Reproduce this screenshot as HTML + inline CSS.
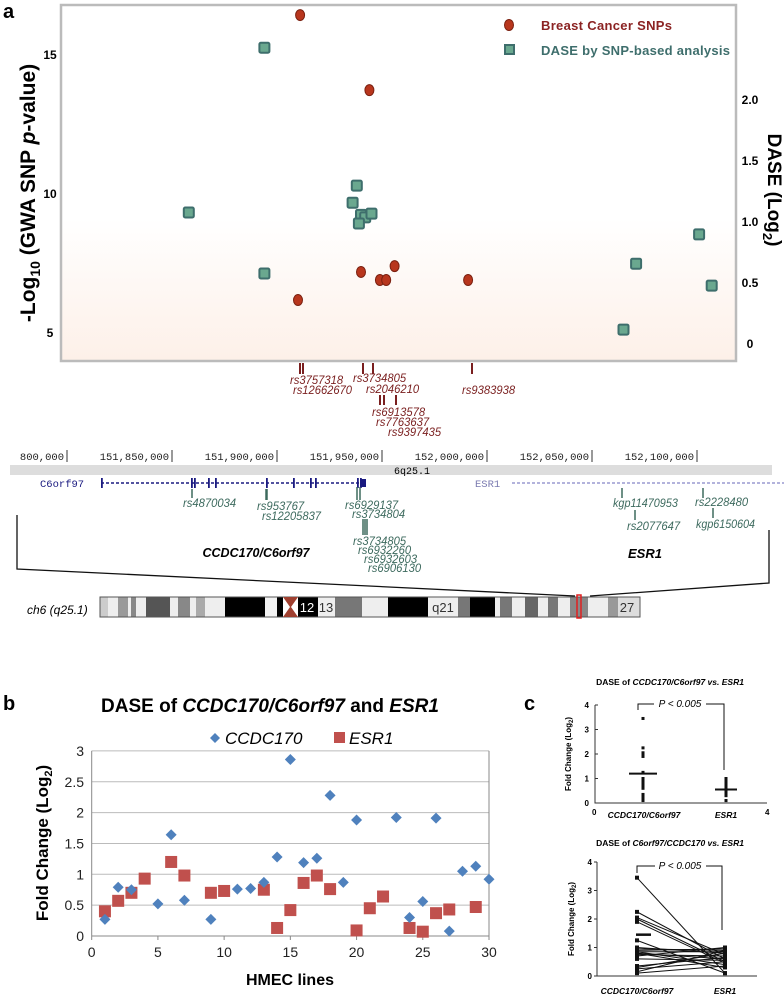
<!DOCTYPE html>
<html><head><meta charset="utf-8"><style>
html,body{margin:0;padding:0;background:#fff}
svg{display:block;font-family:"Liberation Sans",sans-serif}
</style></head><body>
<svg id="fig" width="784" height="996" viewBox="0 0 784 996" xmlns="http://www.w3.org/2000/svg">
<defs>
<linearGradient id="peach" x1="0" y1="0" x2="0" y2="1">
<stop offset="0" stop-color="#ffffff"/><stop offset="0.6" stop-color="#ffffff"/><stop offset="1" stop-color="#fdf0e8"/>
</linearGradient>
</defs>
<g id="pa"></g>
<g id="pb"></g>
<g id="pc"></g>
</svg>
<script>
// ---------- Panel a data ----------
const bcPos = [151.911,151.944,151.910,151.940,151.949,151.952,151.956,151.991];
const bcLogP = [16.4,13.7,6.15,7.16,6.87,6.87,7.37,6.87];
const dasePos = [151.894,151.858,151.894,151.938,151.936,151.940,151.942,151.945,151.939,152.065,152.071,152.101,152.107];
const daseVal = [2.42,1.07,0.57,1.29,1.15,1.05,1.03,1.06,0.98,0.11,0.65,0.89,0.47];
const leftTicks = [5,10,15];
const rightTicks = [0,0.5,1.0,1.5,2.0];
const rulerTicks = [151.80,151.85,151.90,151.95,152.00,152.05,152.10,152.15];
// ---------- Panel b data ----------
const ccdcX = [1,2,3,5,6,7,9,11,12,13,14,15,16,17,18,19,20,23,24,25,26,27,28,29,30];
const ccdcY = [0.27,0.79,0.75,0.52,1.64,0.58,0.27,0.76,0.77,0.87,1.28,2.86,1.19,1.26,2.28,0.87,1.88,1.92,0.30,0.56,1.91,0.08,1.05,1.13,0.92];
const esrX = [1,2,3,4,6,7,9,10,13,14,15,16,17,18,20,21,22,24,25,26,27,29];
const esrY = [0.40,0.57,0.70,0.93,1.20,0.98,0.70,0.73,0.75,0.13,0.42,0.86,0.98,0.76,0.09,0.45,0.64,0.13,0.07,0.37,0.43,0.47];
const bYTicks = [0,0.5,1,1.5,2,2.5,3];
const bXTicks = [0,5,10,15,20,25,30];
// ---------- Panel c data ----------
const pairCcdc = [3.45,2.25,2.05,2.0,1.9,1.25,1.0,0.95,0.9,0.85,0.85,0.8,0.8,0.75,0.7,0.6,0.35,0.3,0.25,0.15,0.1];
const pairEsr = [0.1,0.6,0.75,0.5,0.45,0.1,0.8,0.9,0.95,0.4,0.85,0.6,0.3,0.7,1.0,0.55,0.65,0.8,0.5,0.9,0.35];
const ccdcMean = 1.2, esrMean = 0.55, pairCcdcMean = 1.45;
const cTicks = [0,1,2,3,4];

const NS='http://www.w3.org/2000/svg';
function mk(parent, tag, attrs, text){
  const e=document.createElementNS(NS,tag);
  for(const k in attrs) e.setAttribute(k,attrs[k]);
  if(text!==undefined) e.textContent=text;
  parent.appendChild(e); return e;
}
const pa=document.getElementById('pa'), pb=document.getElementById('pb'), pc=document.getElementById('pc');

// ===== Panel a =====
let t;
t=mk(pa,'text',{x:3,y:18,'font-size':20,'font-weight':'bold'},'a');
 
let r=mk(pa,'rect',{x:61,y:5,width:675,height:356,fill:'url(#peach)',stroke:'#bbb','stroke-width':2.5});
 
const gx = p => 172 + (p-151.85)*2100;
const ly = v => 332 - (v-5)*27.8;
const ry = v => 343 - v*122;
leftTicks.forEach(v=>{ const e=mk(pa,'text',{x:50,y:ly(v)+5,'font-size':12,'font-weight':'bold','text-anchor':'middle'},String(v));
   });
rightTicks.forEach(v=>{ const e=mk(pa,'text',{x:750,y:ry(v)+5,'font-size':12,'font-weight':'bold','text-anchor':'middle'},v===0?'0':v.toFixed(1));
   });
t=mk(pa,'text',{transform:'translate(35,193) rotate(-90)','font-size':21,'font-weight':'bold','text-anchor':'middle'});
t.innerHTML='-Log<tspan font-size="14" dy="5">10</tspan><tspan dy="-5"> (GWA SNP </tspan><tspan font-style="italic">p</tspan>-value)';
 
t=mk(pa,'text',{transform:'translate(768,190) rotate(90)','font-size':19,'font-weight':'bold','text-anchor':'middle'});
t.innerHTML='DASE (Log<tspan font-size="13" dy="5">2</tspan><tspan dy="-5">)</tspan>';
 
dasePos.forEach((p,i)=>{ const e=mk(pa,'rect',{x:gx(p)-5,y:ry(daseVal[i])-5,width:10,height:10,rx:1.5,fill:'#6aa88f',stroke:'#3e6e6c','stroke-width':2});
   });
bcPos.forEach((p,i)=>{ const e=mk(pa,'ellipse',{cx:gx(p),cy:ly(bcLogP[i]),rx:4.5,ry:5.5,fill:'#b8361d',stroke:'#7a2010','stroke-width':1});
   });
t=mk(pa,'ellipse',{cx:509,cy:25,rx:4.5,ry:5.5,fill:'#b8361d',stroke:'#7a2010'});
 
t=mk(pa,'text',{x:541,y:30,'font-size':13,'font-weight':'bold',fill:'#8b2323',textLength:131},'Breast Cancer SNPs');
 
t=mk(pa,'rect',{x:505,y:45,width:9,height:9,fill:'#6aa88f',stroke:'#3e6e6c','stroke-width':2});
 
t=mk(pa,'text',{x:541,y:55,'font-size':13,'font-weight':'bold',fill:'#3e6e6c',textLength:189},'DASE by SNP-based analysis');
 

// SNP annotations (red)
const redC='#7a1f1f', grn='#3d6a5e';
function tick(g,x,y1,y2,c,w){ const e=mk(g,'line',{x1:x,x2:x,y1:y1,y2:y2,stroke:c,'stroke-width':w||1.5});  }
function lab(g,x,y,s,c,name){ const e=mk(g,'text',{x:x,y:y,'font-size':11.5,'font-style':'italic',fill:c,textLength:s.length*5.9,lengthAdjust:'spacingAndGlyphs'},s);  }
[300,303,363,373,472].forEach(x=>tick(pa,x,363,374,redC,2));
[380,384,396].forEach(x=>tick(pa,x,395,405,redC,2));
lab(pa,290,384,'rs3757318',redC);lab(pa,293,394,'rs12662670',redC);
lab(pa,353,382,'rs3734805',redC);lab(pa,366,393,'rs2046210',redC);
lab(pa,372,416,'rs6913578',redC);lab(pa,376,426,'rs7763637',redC);lab(pa,388,436,'rs9397435',redC);
lab(pa,462,394,'rs9383938',redC);

// Ruler
rulerTicks.forEach((p,i)=>{ const x=gx(p);
  const s=(p*1e6).toLocaleString('en-US').replace(/^151,8/,'8').replace(/^152,15.*/,'152,150,');
  const txt = i===0 ? '800,000' : (i===7 ? '152,150,' : (p*1e6).toLocaleString('en-US'));
  const e=mk(pa,'text',{x:x-3,y:460,'font-size':10.5,'font-family':'Liberation Mono, monospace','text-anchor':i===7?'start':'end',fill:'#222'},txt+(i<7?'':''));
  if(i===7){e.setAttribute('x',x+5);}
   
  if(i<7){const l=mk(pa,'line',{x1:x,x2:x,y1:450,y2:462,stroke:'#333'});  }
});
t=mk(pa,'rect',{x:10,y:465,width:762,height:10,fill:'#ddd'});  
t=mk(pa,'text',{x:412,y:474,'font-size':10,'font-family':'Liberation Mono, monospace','text-anchor':'middle'},'6q25.1');  
t=mk(pa,'text',{x:40,y:487,'font-size':10.5,'font-family':'Liberation Mono, monospace',fill:'#1a1a80'},'C6orf97');  
t=mk(pa,'line',{x1:101,x2:366,y1:483,y2:483,stroke:'#1a1a80','stroke-width':1.5,'stroke-dasharray':'3 2'});  
[101,191,194,208,215,266,293,310,315,357,360].forEach(x=>{const e=mk(pa,'rect',{x:x,y:478,width:1.8,height:10,fill:'#1a1a80'});});
t=mk(pa,'rect',{x:360,y:479,width:6,height:8,fill:'#1a1a80'});
t=mk(pa,'text',{x:475,y:487,'font-size':10.5,'font-family':'Liberation Mono, monospace',fill:'#7a7ab0'},'ESR1');  
t=mk(pa,'line',{x1:512,x2:784,y1:483,y2:483,stroke:'#9a9ad0','stroke-width':1.5,'stroke-dasharray':'3 2'});  
// green snps
[[192,489,498],[266,489,500],[267,489,500],[357,487,500],[360,487,500],[363,519,535],[365,519,535],[367,519,535],[622,488,498],[635,510,520],[703,488,498],[713,508,518]].forEach(a=>tick(pa,a[0],a[1],a[2],grn,1.5));
lab(pa,183,507,'rs4870034',grn);lab(pa,257,510,'rs953767',grn);lab(pa,262,520,'rs12205837',grn);
lab(pa,345,509,'rs6929137',grn);lab(pa,352,518,'rs3734804',grn);
lab(pa,353,545,'rs3734805',grn);lab(pa,358,554,'rs6932260',grn);lab(pa,364,563,'rs6932603',grn);lab(pa,368,572,'rs6906130',grn);
lab(pa,613,507,'kgp11470953',grn);lab(pa,627,530,'rs2077647',grn);lab(pa,695,506,'rs2228480',grn);lab(pa,696,528,'kgp6150604',grn);
t=mk(pa,'text',{x:256,y:557,'font-size':13,'font-weight':'bold','font-style':'italic','text-anchor':'middle',textLength:107,lengthAdjust:'spacingAndGlyphs'},'CCDC170/C6orf97');  
t=mk(pa,'text',{x:645,y:558,'font-size':13,'font-weight':'bold','font-style':'italic','text-anchor':'middle'},'ESR1');  
t=mk(pa,'polyline',{points:'17,515 17,569 575,596',fill:'none',stroke:'#111','stroke-width':1.3});  
t=mk(pa,'polyline',{points:'769,530 769,583 590,596',fill:'none',stroke:'#111','stroke-width':1.3});  
// chromosome
t=mk(pa,'text',{x:27,y:614,'font-size':12,'font-style':'italic'},'ch6 (q25.1)');  
const bands=[[100,108,'#ccc'],[108,118,'#eee'],[118,128,'#999'],[128,131,'#eee'],[131,136,'#888'],[136,146,'#eee'],[146,170,'#555'],[170,178,'#eee'],[178,190,'#888'],[190,196,'#eee'],[196,205,'#aaa'],[205,225,'#eee'],[225,240,'#000'],[240,265,'#000'],[265,277,'#f2f2f2'],[277,283,'#000'],[298,318,'#000'],[318,335,'#eee'],[335,362,'#777'],[362,388,'#eee'],[388,428,'#000'],[428,458,'#eee'],[458,470,'#777'],[470,495,'#000'],[495,500,'#eee'],[500,512,'#777'],[512,525,'#eee'],[525,538,'#666'],[538,548,'#eee'],[548,558,'#777'],[558,570,'#eee'],[570,588,'#888'],[588,608,'#eee'],[608,618,'#999'],[618,640,'#ddd']];
bands.forEach(b=>{const e=mk(pa,'rect',{x:b[0],y:597,width:b[1]-b[0],height:20,fill:b[2]});});
t=mk(pa,'rect',{x:100,y:597,width:540,height:20,fill:'none',stroke:'#555'});
t=mk(pa,'path',{d:'M283,597 L298,597 L291,607 L298,617 L283,617 L290,607 Z',fill:'#a04030'});
t=mk(pa,'rect',{x:577,y:595,width:4,height:23,fill:'none',stroke:'#e02020','stroke-width':1.5});
[[307,'12','#fff'],[326,'13','#333'],[443,'q21','#333'],[627,'27','#333']].forEach(a=>{const e=mk(pa,'text',{x:a[0],y:612,'font-size':13,'text-anchor':'middle',fill:a[2]},a[1]);});

// ===== Panel b =====
t=mk(pb,'text',{x:3,y:710,'font-size':20,'font-weight':'bold'},'b');
t=mk(pb,'text',{x:270,y:712,'font-size':19,'font-weight':'bold','text-anchor':'middle'});
t.innerHTML='DASE of <tspan font-style="italic">CCDC170/C6orf97</tspan> and <tspan font-style="italic">ESR1</tspan>';

const bx=v=>91.7+v*(489-91.7)/30, by=v=>936-v*61.7;
bYTicks.forEach(v=>{const l=mk(pb,'line',{x1:91.7,x2:489,y1:by(v),y2:by(v),stroke:v===0?'#888':'#bbb'});
  const e=mk(pb,'text',{x:84,y:by(v)+5,'font-size':14,'text-anchor':'end',fill:'#222'},String(v));});
t=mk(pb,'line',{x1:91.7,x2:91.7,y1:by(3),y2:936,stroke:'#888'});
t=mk(pb,'line',{x1:489,x2:489,y1:by(3),y2:936,stroke:'#888'});
bXTicks.forEach(v=>{const e=mk(pb,'text',{x:bx(v),y:957,'font-size':14,'text-anchor':'middle',fill:'#222'},String(v));
  const l=mk(pb,'line',{x1:bx(v),x2:bx(v),y1:936,y2:940,stroke:'#888'});});
t=mk(pb,'text',{x:290,y:985,'font-size':16,'font-weight':'bold','text-anchor':'middle'},'HMEC lines');
t=mk(pb,'text',{transform:'translate(48,843) rotate(-90)','font-size':17,'font-weight':'bold','text-anchor':'middle'});
t.innerHTML='Fold Change (Log<tspan font-size="11" dy="4">2</tspan><tspan dy="-4">)</tspan>';

esrX.forEach((x,i)=>{const e=mk(pb,'rect',{x:bx(x)-6,y:by(esrY[i])-6,width:12,height:12,fill:'#c0504d'});});
ccdcX.forEach((x,i)=>{const c=bx(x),d=by(ccdcY[i]);const e=mk(pb,'path',{d:`M${c},${d-5.5} L${c+5.5},${d} L${c},${d+5.5} L${c-5.5},${d} Z`,fill:'#4f81bd'});});
t=mk(pb,'path',{d:'M215,733 L220,738 L215,743 L210,738 Z',fill:'#4f81bd'});
t=mk(pb,'text',{x:225,y:744,'font-size':17,'font-style':'italic'},'CCDC170');
t=mk(pb,'rect',{x:334,y:732,width:11,height:11,fill:'#c0504d'});
t=mk(pb,'text',{x:349,y:744,'font-size':17,'font-style':'italic'},'ESR1');

// ===== Panel c =====
t=mk(pc,'text',{x:524,y:710,'font-size':20,'font-weight':'bold'},'c');
t=mk(pc,'text',{x:670,y:685,'font-size':8.5,'font-weight':'bold','text-anchor':'middle'});
t.innerHTML='DASE of <tspan font-style="italic">CCDC170/C6orf97 vs. ESR1</tspan>';
const c1y=v=>803-v*24.5, c1x1=643, c1x2=726;
t=mk(pc,'polyline',{points:'595,705 595,803 767,803',fill:'none',stroke:'#333'});
cTicks.forEach(v=>{const e=mk(pc,'text',{x:589,y:c1y(v)+3,'font-size':8,'font-weight':'bold','text-anchor':'end'},String(v));
 const l=mk(pc,'line',{x1:595,x2:598,y1:c1y(v),y2:c1y(v),stroke:'#333'});});
t=mk(pc,'text',{x:592,y:815,'font-size':8,'font-weight':'bold'},'0');
t=mk(pc,'text',{x:765,y:815,'font-size':8,'font-weight':'bold'},'4');
t=mk(pc,'text',{x:644,y:818,'font-size':8.5,'font-weight':'bold','font-style':'italic','text-anchor':'middle'},'CCDC170/C6orf97');
t=mk(pc,'text',{x:726,y:818,'font-size':8.5,'font-weight':'bold','font-style':'italic','text-anchor':'middle'},'ESR1');
t=mk(pc,'text',{transform:'translate(571,754) rotate(-90)','font-size':8,'font-weight':'bold','text-anchor':'middle'});
t.innerHTML='Fold Change (Log<tspan font-size="6" dy="2">2</tspan><tspan dy="-2">)</tspan>';
pairCcdc.forEach(v=>{const e=mk(pc,'rect',{x:c1x1-1.5,y:c1y(v)-1.5,width:3,height:3,fill:'#111'});});
pairEsr.forEach(v=>{const e=mk(pc,'rect',{x:c1x2-1.5,y:c1y(v)-1.5,width:3,height:3,fill:'#111'});});
t=mk(pc,'line',{x1:c1x1-14,x2:c1x1+14,y1:c1y(ccdcMean),y2:c1y(ccdcMean),stroke:'#111','stroke-width':2});
t=mk(pc,'line',{x1:c1x2-11,x2:c1x2+11,y1:c1y(esrMean),y2:c1y(esrMean),stroke:'#111','stroke-width':2});
t=mk(pc,'polyline',{points:'638,710 638,704 654,704',fill:'none',stroke:'#111'});
t=mk(pc,'polyline',{points:'706,704 724,704 724,770',fill:'none',stroke:'#111'});
t=mk(pc,'text',{x:680,y:707,'font-size':10,'font-style':'italic','text-anchor':'middle'},'P < 0.005');

t=mk(pc,'text',{x:670,y:846,'font-size':8.5,'font-weight':'bold','text-anchor':'middle'});
t.innerHTML='DASE of <tspan font-style="italic">C6orf97/CCDC170 vs. ESR1</tspan>';
const c2y=v=>976-v*28.5, c2x1=637, c2x2=725;
t=mk(pc,'polyline',{points:'597,862 597,976 757,976',fill:'none',stroke:'#333'});
cTicks.forEach(v=>{const e=mk(pc,'text',{x:592,y:c2y(v)+3,'font-size':8,'font-weight':'bold','text-anchor':'end'},String(v));
 const l=mk(pc,'line',{x1:594,x2:597,y1:c2y(v),y2:c2y(v),stroke:'#333'});});
t=mk(pc,'text',{x:637,y:994,'font-size':8.5,'font-weight':'bold','font-style':'italic','text-anchor':'middle'},'CCDC170/C6orf97');
t=mk(pc,'text',{x:725,y:994,'font-size':8.5,'font-weight':'bold','font-style':'italic','text-anchor':'middle'},'ESR1');
t=mk(pc,'text',{transform:'translate(574,919) rotate(-90)','font-size':8,'font-weight':'bold','text-anchor':'middle'});
t.innerHTML='Fold Change (Log<tspan font-size="6" dy="2">2</tspan><tspan dy="-2">)</tspan>';
pairCcdc.forEach((v,i)=>{const l=mk(pc,'line',{x1:c2x1,y1:c2y(v),x2:c2x2,y2:c2y(pairEsr[i]),stroke:'#111','stroke-width':1});
  const a=mk(pc,'rect',{x:c2x1-2,y:c2y(v)-2,width:4,height:4,fill:'#111'});
  const b=mk(pc,'rect',{x:c2x2-2,y:c2y(pairEsr[i])-2,width:4,height:4,fill:'#111'});});
t=mk(pc,'line',{x1:c2x1-1,x2:c2x1+14,y1:c2y(pairCcdcMean),y2:c2y(pairCcdcMean),stroke:'#111','stroke-width':2.5});
t=mk(pc,'polyline',{points:'637,873 637,866 655,866',fill:'none',stroke:'#111'});
t=mk(pc,'polyline',{points:'706,866 722,866 722,930',fill:'none',stroke:'#111'});
t=mk(pc,'text',{x:680,y:869,'font-size':10,'font-style':'italic','text-anchor':'middle'},'P < 0.005');
</script>
</body></html>
